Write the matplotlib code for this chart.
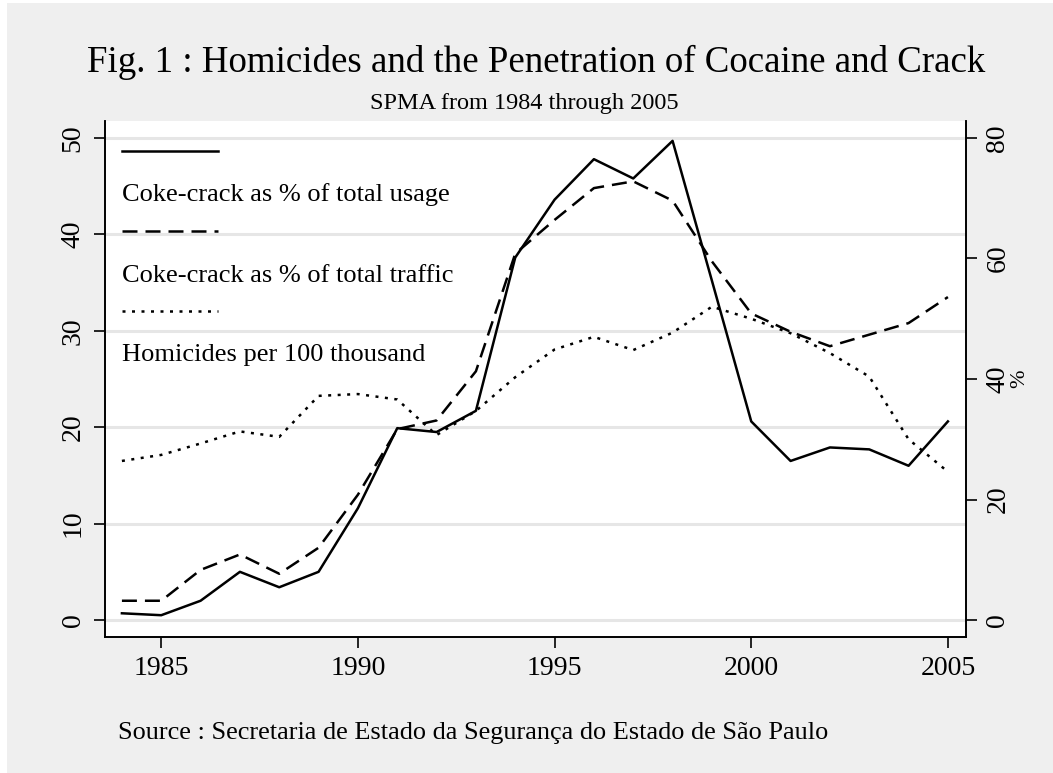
import numpy as np
import matplotlib
matplotlib.use("Agg")
import matplotlib.pyplot as plt
from matplotlib.patches import Rectangle

plt.rcParams['font.family'] = ['Liberation Serif', 'DejaVu Serif']

# SPMA series
years = list(range(1984, 2006))
usage = [0.7, 0.5, 2.0, 5.0, 3.4, 5.0, 11.6, 19.9, 19.5, 21.7, 37.6,
         43.6, 47.8, 45.8, 49.7, 35.2, 20.6, 16.5, 17.9, 17.7, 16.0, 20.6]
traffic = [2.0, 2.0, 5.2, 6.8, 4.8, 7.5, 13.0, 19.8, 20.7, 25.8, 38.0,
           41.5, 44.8, 45.5, 43.5, 37.2, 31.8, 29.9, 28.4, 29.6, 30.8, 33.5]
homicides = [26.4, 27.4, 29.3, 31.3, 30.4, 37.2, 37.5, 36.6, 30.7, 34.7, 40.3,
             44.9, 47.0, 44.8, 47.7, 52.0, 50.0, 47.6, 44.3, 40.4, 30.0, 24.6]
labels = ['Coke-crack as % of total usage',
          'Coke-crack as % of total traffic',
          'Homicides per 100 thousand']

left_ticks = [0, 10, 20, 30, 40, 50]
right_ticks = [0, 20, 40, 60, 80]
x_ticks = [1985, 1990, 1995, 2000, 2005]

solid = '-'
dashed = (0, (6, 3.2))
dotted = (0, (1.2, 2.6))

bg = '#efefef'
W, H = 1053, 773
fig = plt.figure(figsize=(W / 100, H / 100), dpi=100, facecolor='white')
fig.patches.append(Rectangle((7 / W, 0), 1 - 7 / W, 1 - 3 / H,
                             transform=fig.transFigure, facecolor=bg,
                             edgecolor='none', zorder=-10))

ax = fig.add_axes([105 / W, 1 - 637 / H, (966 - 105) / W, (637 - 121) / H])
ax.set_facecolor('white')
ax2 = ax.twinx()

ax.set_xlim(1983.57, 2005.46)
ax.set_ylim(-1.76, 51.76)
ax2.set_ylim(-2.82, 82.82)

for v in left_ticks:
    ax.axhline(v, color='#e6e6e6', lw=2.2, zorder=0)

ax.plot(years, usage, color='black', lw=1.8, ls=solid)
ax.plot(years, traffic, color='black', lw=1.8, ls=dashed)
ax2.plot(years, homicides, color='black', lw=1.8, ls=dotted)

ax.set_xticks(x_ticks)
ax.set_xticklabels([str(t) for t in x_ticks])
ax.set_yticks(left_ticks)
ax.set_yticklabels([str(t) for t in left_ticks], rotation=90, va='center')
ax2.set_yticks(right_ticks)
ax2.set_yticklabels([str(t) for t in right_ticks], rotation=90, va='center')
ax2.set_ylabel('%', fontsize=16, rotation=90, labelpad=0)

for a in (ax, ax2):
    a.tick_params(axis='both', labelsize=20, length=8, width=1.2, pad=6,
                  color='black')
    for s in a.spines.values():
        s.set_linewidth(1.2)
ax.spines['top'].set_visible(False)
ax2.spines['top'].set_visible(False)

# Stata-like legend: key line above each label
key_y = [151, 231, 311]
text_y = [195, 276, 355]
for ls, ky, label, ty in zip([solid, dashed, dotted], key_y, labels, text_y):
    fig.add_artist(plt.Line2D([122 / W, 218 / W], [1 - ky / H, 1 - ky / H],
                              color='black', lw=1.8, ls=ls,
                              transform=fig.transFigure))
    fig.text(122 / W, 1 - ty / H, label, fontsize=19, va='center', ha='left')

fig.text(536 / W, 1 - 62 / H,
         'Fig. 1 : Homicides and the Penetration of Cocaine and Crack',
         fontsize=26.6, ha='center', va='center')
fig.text(524 / W, 1 - 104 / H, 'SPMA from 1984 through 2005',
         fontsize=17.5, ha='center', va='center')
fig.text(118 / W, 1 - 733 / H,
         'Source : Secretaria de Estado da Segurança do Estado de São Paulo',
         fontsize=18.9, ha='left', va='center')

fig.savefig('out.png', dpi=100, facecolor=fig.get_facecolor())
